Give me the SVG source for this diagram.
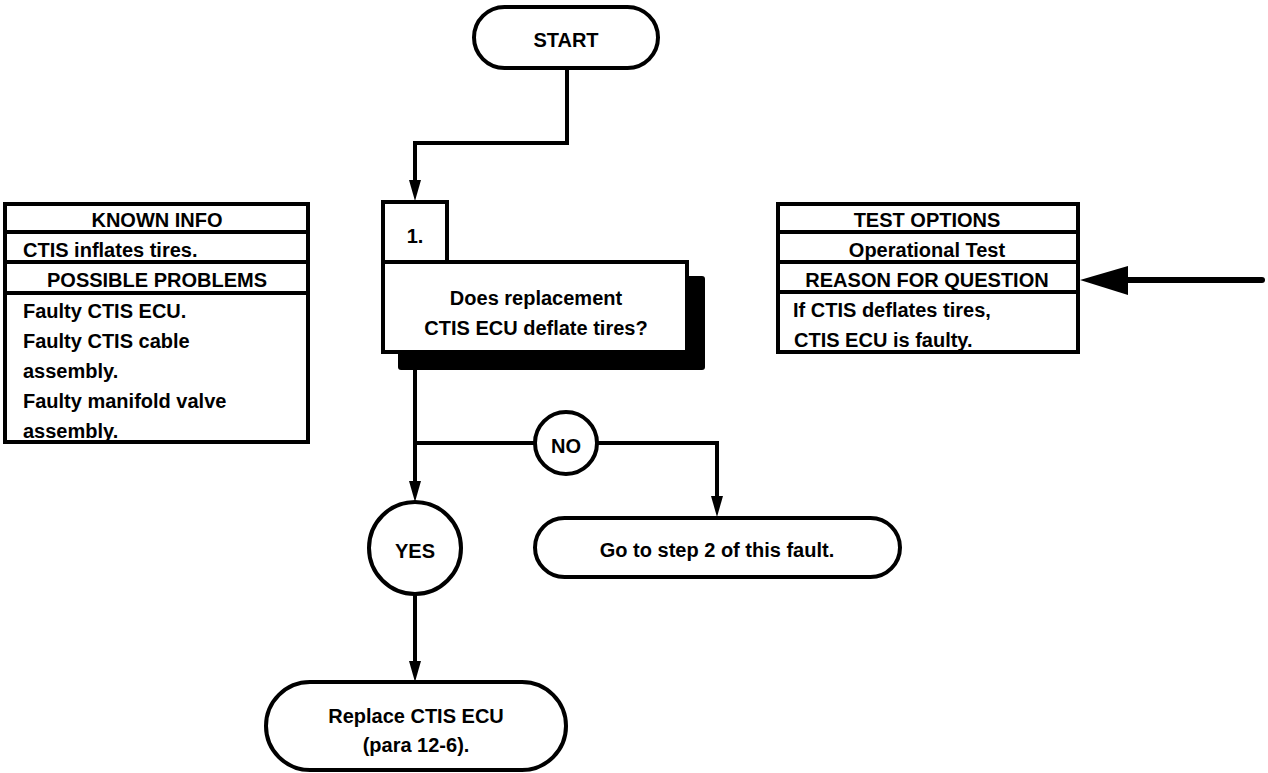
<svg xmlns="http://www.w3.org/2000/svg" width="1268" height="773" viewBox="0 0 1268 773">
<style>
.s{fill:#fff;stroke:#000;stroke-width:4}
.c{fill:none;stroke:#000;stroke-width:4;stroke-linejoin:miter}
.t{font-family:"Liberation Sans",Arial,sans-serif;font-weight:bold;font-size:20px;fill:#000}
.m{text-anchor:middle}
</style>
<rect width="1268" height="773" fill="#fff"/>
<g id="connectors">
<path class="c" d="M567,68 V143 H415 V180"/>
<path d="M409,180 H421 L415,201 Z" fill="#000"/>
<path class="c" d="M415,370 V482"/>
<path d="M409,481 H421 L415,502 Z" fill="#000"/>
<path class="c" d="M415,443 H535"/>
<path class="c" d="M597,443 H717 V497"/>
<path d="M711,496 H723 L717,517 Z" fill="#000"/>
<path class="c" d="M415,594 V662"/>
<path d="M409,661 H421 L415,682 Z" fill="#000"/>
<path d="M1262,280 H1120" stroke="#000" stroke-width="6" stroke-linecap="round" fill="none"/>
<path d="M1128,266 L1080,280 L1128,295 Z" fill="#000"/>
</g>
<g id="start">
<rect class="s" x="474" y="7" width="184" height="61" rx="30.5"/>
<text class="t m" x="566" y="47">START</text>
</g>
<g id="step1">
<rect x="398" y="276" width="307" height="94" rx="3" fill="#000"/>
<rect class="s" x="383" y="202" width="64" height="60"/>
<text class="t m" x="415" y="243">1.</text>
<rect class="s" x="383" y="262" width="304" height="90"/>
<text class="t m" x="536" y="305">Does replacement</text>
<text class="t m" x="536" y="335">CTIS ECU deflate tires?</text>
</g>
<g id="known-info">
<rect class="s" x="5" y="204" width="303" height="238" stroke-width="4.5"/>
<path class="c" d="M5,232 H308 M5,262 H308 M5,293 H308" stroke-width="5"/>
<text class="t m" x="157" y="227">KNOWN INFO</text>
<text class="t" x="23" y="257">CTIS inflates tires.</text>
<text class="t m" x="157" y="287">POSSIBLE PROBLEMS</text>
<text class="t" x="23" y="318">Faulty CTIS ECU.</text>
<text class="t" x="23" y="348">Faulty CTIS cable</text>
<text class="t" x="23" y="378">assembly.</text>
<text class="t" x="23" y="408">Faulty manifold valve</text>
<text class="t" x="23" y="438">assembly.</text>
</g>
<g id="test-options">
<rect class="s" x="778" y="204" width="300" height="148" stroke-width="4.5"/>
<path class="c" d="M778,232 H1078 M778,262 H1078 M778,292 H1078" stroke-width="5"/>
<text class="t m" x="927" y="227">TEST OPTIONS</text>
<text class="t m" x="927" y="257">Operational Test</text>
<text class="t m" x="927" y="287">REASON FOR QUESTION</text>
<text class="t" x="793" y="317">If CTIS deflates tires,</text>
<text class="t" x="794" y="347">CTIS ECU is faulty.</text>
</g>
<g id="no">
<circle class="s" cx="566" cy="443" r="31"/>
<text class="t m" x="566" y="453">NO</text>
</g>
<g id="yes">
<circle class="s" cx="415" cy="548" r="46"/>
<text class="t m" x="415" y="558">YES</text>
</g>
<g id="goto-step2">
<rect class="s" x="535" y="518" width="365" height="59" rx="29.5"/>
<text class="t m" x="717" y="557">Go to step 2 of this fault.</text>
</g>
<g id="replace">
<rect class="s" x="266" y="682" width="300" height="88" rx="44"/>
<text class="t m" x="416" y="723">Replace CTIS ECU</text>
<text class="t m" x="416" y="752">(para 12-6).</text>
</g>
</svg>
